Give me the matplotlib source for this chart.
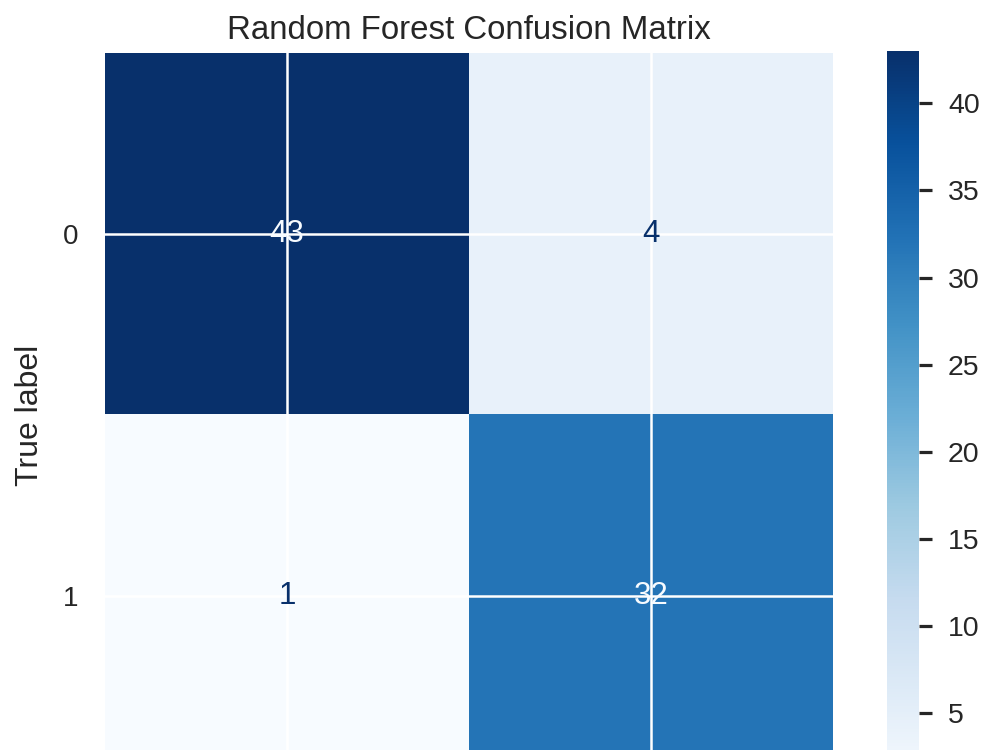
import matplotlib
matplotlib.use('Agg')
import matplotlib.pyplot as plt
import numpy as np

# Confusion matrix data
class_labels = ['0', '1']
cm = np.array([[43, 4],
               [1, 32]])
cbar_ticks = [5, 10, 15, 20, 25, 30, 35, 40]

plt.rcParams['font.family'] = ['Liberation Sans', 'DejaVu Sans']
plt.rcParams['text.color'] = '#262626'
plt.rcParams['axes.labelcolor'] = '#262626'
plt.rcParams['xtick.color'] = '#262626'
plt.rcParams['ytick.color'] = '#262626'

fig = plt.figure(figsize=(10, 7.5), dpi=100)
# the original picture is cut off at the bottom (x labels not visible)
ax = fig.add_axes([0.105, -0.036, 0.728, 0.9653])
cax = fig.add_axes([0.887, -0.044, 0.032, 0.976])

cmap = plt.get_cmap('Blues')
im = ax.imshow(cm, cmap=cmap, interpolation='nearest', aspect='auto')

# value labels (sklearn-like colouring)
thresh = (cm.max() + cm.min()) / 2.0
for i in range(cm.shape[0]):
    for j in range(cm.shape[1]):
        color = cmap(0.0) if cm[i, j] > thresh else cmap(1.0)
        ax.text(j, i, str(cm[i, j]), ha='center', va='center',
                color=color, fontsize=22.5, zorder=5)

ax.set_xticks(range(len(class_labels)))
ax.set_yticks(range(len(class_labels)))
ax.set_xticklabels([])
ax.set_yticklabels(class_labels)
ax.tick_params(axis='both', length=0, labelsize=20, pad=19)
ax.set_ylabel('True label', fontsize=23, labelpad=13)
ax.set_title('Random Forest Confusion Matrix', fontsize=23.8, pad=10)

# white grid on top of the image (seaborn darkgrid look)
ax.grid(True, color='white', linewidth=1.8)
ax.set_axisbelow(False)
im.set_zorder(0)
for s in ax.spines.values():
    s.set_visible(False)

cbar = fig.colorbar(im, cax=cax, ticks=cbar_ticks)
cbar.outline.set_visible(False)
cax.tick_params(length=9.4, width=2.3, labelsize=20.5, pad=11.5)

fig.savefig('out.png', dpi=100)
